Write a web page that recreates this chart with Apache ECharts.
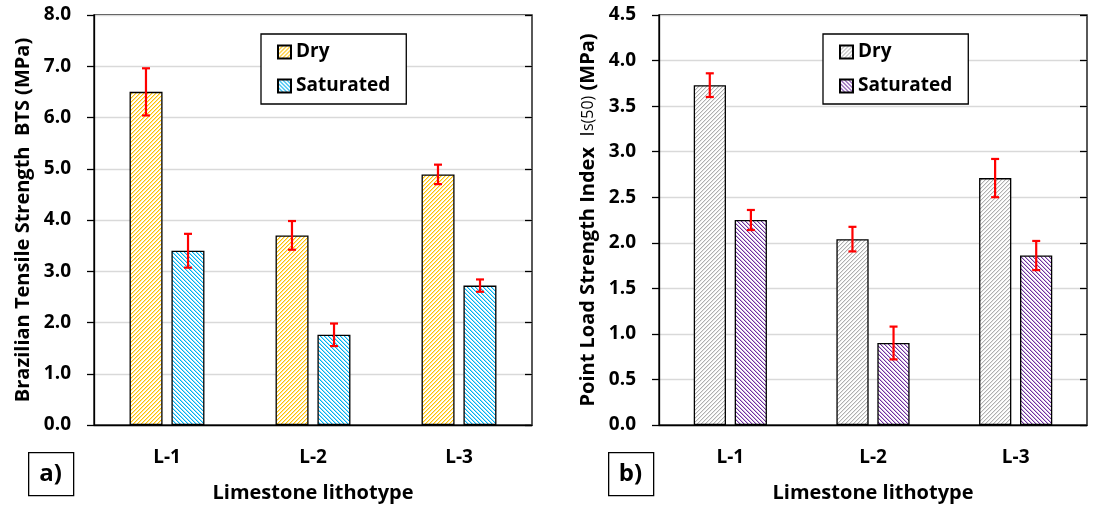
<!DOCTYPE html>
<html><head><meta charset="utf-8">
<script src="https://cdn.jsdelivr.net/npm/echarts@6/dist/echarts.min.js"></script>
<style>html,body{margin:0;padding:0;background:#fff}#c{width:1094px;height:506px}</style>
</head><body><div id="c"></div>
<script>
// ---- data ----
const categories = ['L-1', 'L-2', 'L-3'];
const seriesNames = ['Dry', 'Saturated'];
const btsDry = [6.50, 3.70, 4.89];
const btsDryErr = [0.46, 0.28, 0.19];
const btsSat = [3.40, 1.76, 2.72];
const btsSatErr = [0.33, 0.22, 0.12];
const isDry = [3.73, 2.04, 2.71];
const isDryErr = [0.13, 0.135, 0.21];
const isSat = [2.25, 0.90, 1.86];
const isSatErr = [0.11, 0.18, 0.16];
const btsAxis = { min: 0, max: 8, interval: 1 };
const isAxis = { min: 0, max: 4.5, interval: 0.5 };
const panelLabels = ['a)', 'b)'];
const xTitle = 'Limestone lithotype';

// ---- styling helpers ----
const FONT = '"Open Sans", "Noto Sans", sans-serif';
function hatch(rgb, dir, side) {
  const s = 8, p = 4, c = document.createElement('canvas');
  c.width = s; c.height = s;
  const g = c.getContext('2d');
  const img = g.createImageData(s, s);
  for (let y = 0; y < s; y++) for (let x = 0; x < s; x++) {
    const m = (dir > 0 ? (x + y) : (x - y + 4 * s)) % p;
    const t = m === 0 ? 1 : (m === 1 ? side : 0);
    const i = (y * s + x) * 4;
    for (let ch = 0; ch < 3; ch++) img.data[i + ch] = Math.round(255 + (rgb[ch] - 255) * t);
    img.data[i + 3] = 255;
  }
  g.putImageData(img, 0, 0);
  return { image: c, repeat: 'repeat' };
}
const BAR_W = '22.6%', BAR_GAP = '27%', OFF = 0.144;

function errItem(frac) {
  return function (params, api) {
    const x = api.value(0), lo = api.value(1), hi = api.value(2);
    const bw = api.size([1, 0])[0];
    const pLo = api.coord([x, lo]), pHi = api.coord([x, hi]);
    const cx = pLo[0] + frac * bw, hw = 4;
    const style = { stroke: '#ff0000', lineWidth: 2.2 };
    return { type: 'group', children: [
      { type: 'line', shape: { x1: cx, y1: pHi[1], x2: cx, y2: pLo[1] }, style },
      { type: 'line', shape: { x1: cx - hw, y1: pHi[1], x2: cx + hw, y2: pHi[1] }, style },
      { type: 'line', shape: { x1: cx - hw, y1: pLo[1], x2: cx + hw, y2: pLo[1] }, style }
    ]};
  };
}
function errData(vals, errs) { return vals.map((v, i) => [i, v - errs[i], v + errs[i]]); }

const lineStyle = { color: '#000', width: 1.3 };
function xAxes(gi) {
  return [
    { type: 'category', gridIndex: gi, data: categories, boundaryGap: true,
      axisLine: { lineStyle }, axisTick: { length: 7, interval: 0, lineStyle },
      axisLabel: { margin: 23, fontSize: 19, fontWeight: 'bold', color: '#000', fontFamily: FONT },
      name: xTitle, nameLocation: 'middle', nameGap: 58,
      nameTextStyle: { fontSize: 20, fontWeight: 'bold', color: '#000', fontFamily: FONT } },
    { type: 'category', gridIndex: gi, data: categories, boundaryGap: true, position: 'bottom',
      axisLine: { show: false }, axisTick: { inside: true, length: 7, interval: 0, lineStyle },
      axisLabel: { show: false } }
  ];
}
function yAxes(gi, ax, name, rich) {
  return [
    { type: 'value', gridIndex: gi, min: ax.min, max: ax.max, interval: ax.interval,
      axisLine: { show: true, lineStyle }, axisTick: { show: true, length: 7, lineStyle },
      splitLine: { lineStyle: { color: '#d9d9d9', width: 1.3 } },
      axisLabel: { margin: 23, fontSize: 19, fontWeight: 'bold', color: '#000', fontFamily: FONT,
        formatter: v => v.toFixed(1) },
      name, nameLocation: 'middle', nameGap: 61,
      nameTextStyle: Object.assign({ fontSize: 20, fontWeight: 'bold', color: '#000', fontFamily: FONT }, rich ? { rich } : {}) },
    { type: 'value', gridIndex: gi, min: ax.min, max: ax.max, interval: ax.interval,
      axisLine: { show: false }, axisTick: { show: true, inside: true, length: 7, lineStyle },
      splitLine: { show: false }, axisLabel: { show: false } }
  ];
}

const orange = hatch([255, 192, 0], 1, 0.4), blue = hatch([0, 176, 240], -1, 0.4);
const gray = hatch([175, 175, 175], 1, 0.3), purple = hatch([112, 48, 160], -1, 0.35);
const barBorder = { borderColor: '#000', borderWidth: 1.3 };

function legend(left, names) {
  return { left, top: 34, orient: 'vertical', data: names, icon: 'rect',
    formatter: n => n.replace(' (b)', ''),
    itemWidth: 13, itemHeight: 13, itemGap: 14, padding: [8, 16, 8, 16],
    backgroundColor: '#fff', borderColor: '#000', borderWidth: 1.3, selectedMode: false,
    textStyle: { fontSize: 19, fontWeight: 'bold', color: '#000', fontFamily: FONT, lineHeight: 20 } };
}

const richB = {
  b: { fontSize: 20, fontWeight: 'bold', color: '#000', fontFamily: FONT },
  n: { fontSize: 20, fontWeight: 'normal', color: '#000', fontFamily: FONT },
  s: { fontSize: 16, fontWeight: 'normal', color: '#000', fontFamily: FONT }
};

function panelBox(x, label) {
  return [
    { type: 'rect', left: x, top: 452, shape: { width: 45, height: 43 },
      style: { fill: '#fff', stroke: '#000', lineWidth: 1.3 } },
    { type: 'text', x: x + 22.5, y: 474, style: { text: label, fontSize: 24, fontWeight: 'bold',
      fontFamily: FONT, fill: '#000', align: 'center', verticalAlign: 'middle',
      textAlign: 'center', textVerticalAlign: 'middle' } }
  ];
}

const chart = echarts.init(document.getElementById('c'), null, { renderer: 'canvas' });
chart.setOption({
  animation: false,
  backgroundColor: '#fff',
  grid: [
    { left: 94, top: 15, width: 438, height: 410, outerBoundsMode: 'none', containLabel: false, show: true, borderColor: '#000', borderWidth: 1.3, backgroundColor: 'transparent' },
    { left: 659, top: 15, width: 428, height: 410, outerBoundsMode: 'none', containLabel: false, show: true, borderColor: '#000', borderWidth: 1.3, backgroundColor: 'transparent' }
  ],
  xAxis: [...xAxes(0), ...xAxes(1)],
  yAxis: [...yAxes(0, btsAxis, 'Brazilian Tensile Strength  BTS (MPa)'),
          ...yAxes(1, isAxis, '{b|Point Load Strength Index  }{n|I}{s|s(50)}{b| (MPa)}', richB)],
  legend: [legend(261, seriesNames), legend(823, seriesNames.map(n => n + ' (b)'))],
  series: [
    { name: 'Dry', type: 'bar', xAxisIndex: 0, yAxisIndex: 0, data: btsDry, barWidth: BAR_W, barGap: BAR_GAP,
      itemStyle: Object.assign({ color: orange }, barBorder) },
    { name: 'Saturated', type: 'bar', xAxisIndex: 0, yAxisIndex: 0, data: btsSat, barWidth: BAR_W, barGap: BAR_GAP,
      itemStyle: Object.assign({ color: blue }, barBorder) },
    { name: 'Dry (b)', type: 'bar', xAxisIndex: 2, yAxisIndex: 2, data: isDry, barWidth: BAR_W, barGap: BAR_GAP,
      itemStyle: Object.assign({ color: gray }, barBorder) },
    { name: 'Saturated (b)', type: 'bar', xAxisIndex: 2, yAxisIndex: 2, data: isSat, barWidth: BAR_W, barGap: BAR_GAP,
      itemStyle: Object.assign({ color: purple }, barBorder) },
    { type: 'custom', name: 'errA1', xAxisIndex: 0, yAxisIndex: 0, renderItem: errItem(-OFF), data: errData(btsDry, btsDryErr), encode: { x: 0, y: [1, 2] }, z: 5 },
    { type: 'custom', name: 'errA2', xAxisIndex: 0, yAxisIndex: 0, renderItem: errItem(OFF), data: errData(btsSat, btsSatErr), encode: { x: 0, y: [1, 2] }, z: 5 },
    { type: 'custom', name: 'errB1', xAxisIndex: 2, yAxisIndex: 2, renderItem: errItem(-OFF), data: errData(isDry, isDryErr), encode: { x: 0, y: [1, 2] }, z: 5 },
    { type: 'custom', name: 'errB2', xAxisIndex: 2, yAxisIndex: 2, renderItem: errItem(OFF), data: errData(isSat, isSatErr), encode: { x: 0, y: [1, 2] }, z: 5 }
  ],
  graphic: [...panelBox(28, panelLabels[0]), ...panelBox(608, panelLabels[1])]
});
</script></body></html>
